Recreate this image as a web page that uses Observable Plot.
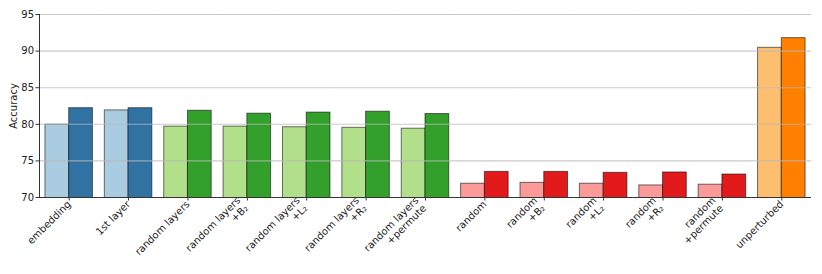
<!DOCTYPE html>
<html>
<head>
<meta charset="utf-8">
<script src="https://cdn.jsdelivr.net/npm/d3@7"></script>
<script src="https://cdn.jsdelivr.net/npm/@observablehq/plot@0.6"></script>
<style>
  html, body { margin: 0; padding: 0; background: #fff; }
  #chart svg { display: block; font-family: "DejaVu Sans", sans-serif; }
</style>
</head>
<body>
<div id="chart"></div>
<script>
// ---- data ----
const categories = [
  "embedding", "1st layer", "random layers", "random layers\n+B₂",
  "random layers\n+L₂", "random layers\n+R₂", "random layers\n+permute",
  "random", "random\n+B₂", "random\n+L₂", "random\n+R₂", "random\n+permute",
  "unperturbed"
];
const groups = ["blue", "blue", "green", "green", "green", "green", "green",
                "red", "red", "red", "red", "red", "orange"];
const lightValues = [79.95, 81.9, 79.68, 79.68, 79.6, 79.52, 79.4,
                     71.88, 72.0, 71.88, 71.65, 71.75, 90.45];
const darkValues  = [82.2, 82.2, 81.85, 81.45, 81.6, 81.72, 81.4,
                     73.5, 73.5, 73.37, 73.42, 73.14, 91.77];
const lightColors = {blue: "#a9cce1", green: "#b2df8a", red: "#fb9a99", orange: "#fdbf6f"};
const darkColors  = {blue: "#3073a3", green: "#33a02c", red: "#e31a1c", orange: "#ff7f00"};
const yTicks = [70, 75, 80, 85, 90, 95];
const variants = ["light", "dark"];

// ---- table ----
const rows = [];
categories.forEach((c, i) => {
  rows.push({cat: c, variant: "light", value: lightValues[i], color: lightColors[groups[i]]});
  rows.push({cat: c, variant: "dark", value: darkValues[i], color: darkColors[groups[i]]});
});
const singleLine = categories.filter(c => !c.includes("\n"));
const multiLine = categories.filter(c => c.includes("\n"));

const chart = Plot.plot({
  width: 822,
  height: 274,
  marginLeft: 39,
  marginRight: 11,
  marginTop: 14,
  marginBottom: 77,
  style: {fontFamily: "DejaVu Sans, sans-serif", fontSize: "10px", color: "#222"},
  fx: {domain: categories, padding: 0, round: false},
  x: {domain: variants, paddingInner: 0, paddingOuter: 0.25, round: false, axis: null},
  y: {domain: [70, 95], axis: null},
  color: {type: "identity"},
  marks: [
    Plot.barY(rows, {
      fx: "cat", x: "variant", y: "value", fill: "color",
      stroke: "#000", strokeOpacity: 0.55, strokeWidth: 1, clip: true
    }),
    Plot.gridY(yTicks, {stroke: "#b8b8b8", strokeOpacity: 0.75, strokeWidth: 1.1}),
    Plot.ruleY([70], {stroke: "#333", strokeWidth: 1}),
    Plot.frame({anchor: "left", facetAnchor: "left", stroke: "#333", strokeWidth: 1}),
    Plot.axisY(yTicks, {
      tickSize: 3.5, tickPadding: 2, stroke: "#333",
      label: "Accuracy", labelAnchor: "center", labelArrow: false, labelOffset: 30,
      fontSize: 10
    }),
    Plot.axisFx({anchor: "bottom", tickSize: 3.5, tickFormat: () => "", stroke: "#333", label: null}),
    Plot.axisFx({
      anchor: "bottom", ticks: singleLine, tickSize: 0, tickPadding: 5, tickRotate: -45,
      textAnchor: "end", label: null, fontSize: 10, dx: 0
    }),
    Plot.axisFx({
      anchor: "bottom", ticks: multiLine, tickSize: 0, tickPadding: 5, tickRotate: -45,
      textAnchor: "end", label: null, fontSize: 10, dx: -5, lineHeight: 1.1
    })
  ]
});
document.getElementById("chart").appendChild(chart);
</script>
</body>
</html>
